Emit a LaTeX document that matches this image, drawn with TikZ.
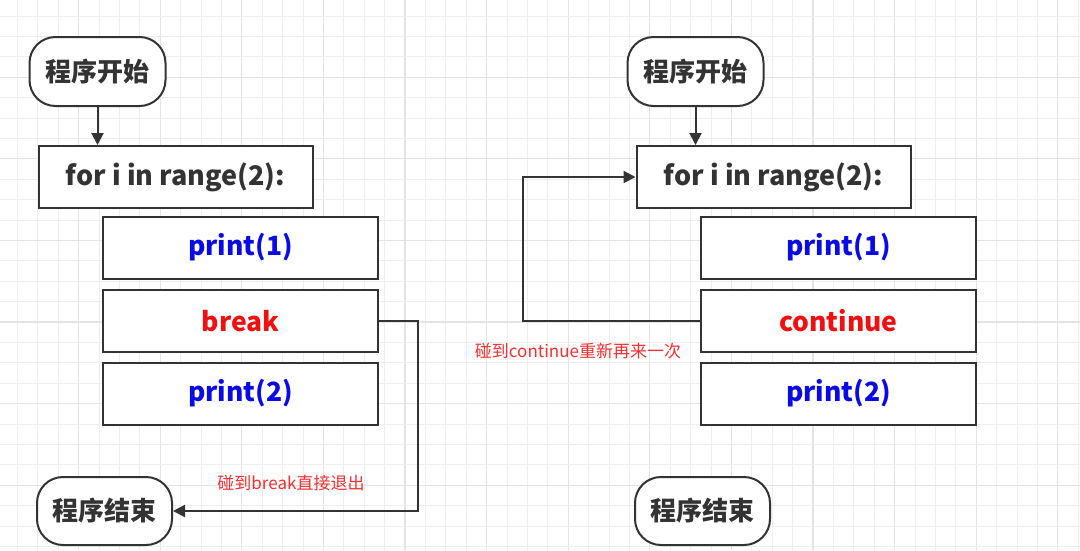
\documentclass[tikz,border=0pt]{standalone}
\usepackage{fontspec}
\setmainfont{Noto Sans CJK SC}
\usetikzlibrary{arrows.meta}
\definecolor{linec}{HTML}{333333}
\definecolor{gridminor}{HTML}{EEEEEE}
\definecolor{gridmajor}{HTML}{E4E4E4}
\definecolor{pblue}{HTML}{0A0AE6}
\definecolor{kred}{HTML}{F01010}
\definecolor{lred}{HTML}{F53030}
\tikzset{
  box/.style={draw=linec, line width=2pt, fill=white, minimum width=275pt, minimum height=62pt, inner sep=0pt,
    font=\fontsize{26.5}{30}\selectfont\bfseries},
  term/.style={draw=linec, line width=2pt, fill=white, rounded corners=26pt, minimum width=136pt, minimum height=69pt, inner sep=0pt,
    text=linec, font=\fontsize{26}{30}\selectfont\bfseries},
  conn/.style={draw=linec, line width=2pt, -{Triangle[length=12pt,width=12pt]}},
  note/.style={text=lred, font=\fontsize{17}{20}\selectfont, inner sep=0pt},
}
\begin{document}
\begin{tikzpicture}[x=1pt,y=-1pt]
\useasboundingbox (0,0) rectangle (1080,550);
\fill[white] (0,0) rectangle (1080,550);
\foreach \i in {0,...,52} {
  \pgfmathtruncatemacro{\m}{mod(\i,4)}
  \ifnum\m=3 \draw[gridmajor,line width=1.2pt] ({17.4+20.4*\i},0) -- ({17.4+20.4*\i},550);
  \else \draw[gridminor,line width=1pt] ({17.4+20.4*\i},0) -- ({17.4+20.4*\i},550); \fi
}
\foreach \j in {0,...,26} {
  \pgfmathtruncatemacro{\m}{mod(\j,4)}
  \ifnum\m=3 \draw[gridmajor,line width=1.2pt] (0,{16+20.4*\j}) -- (1080,{16+20.4*\j});
  \else \draw[gridminor,line width=1pt] (0,{16+20.4*\j}) -- (1080,{16+20.4*\j}); \fi
}

% left flow
\node[term] (s1) at (97.5,71.5) {程序开始};
\node[box, text=linec, minimum width=274pt, font=\fontsize{27}{30}\selectfont\bfseries] (f1) at (175.5,177) {for i in range(2):};
\node[box, text=pblue] (p11) at (240.5,247.5) {print(1)};
\node[box, text=kred] (brk) at (240.5,321) {break};
\node[box, text=pblue] (p12) at (240.5,393.5) {print(2)};
\node[term, minimum width=135pt, minimum height=68pt] (e1) at (104.5,511) {程序结束};
\draw[conn] (s1.south) -- (s1.south |- f1.north);
\coordinate (bk) at (418,321);
\draw[conn] (brk.east) -- (bk) |- (e1.east);
\node[note] (n1) at (291,483) {碰到break直接退出};

% right flow
\node[term] (s2) at (695.5,71.5) {程序开始};
\node[box, text=linec, minimum width=274pt, font=\fontsize{27}{30}\selectfont\bfseries] (f2) at (773.5,177) {for i in range(2):};
\node[box, text=pblue] (p21) at (838.5,247.5) {print(1)};
\node[box, text=kred] (cnt) at (838.5,321) {continue};
\node[box, text=pblue] (p22) at (838.5,393.5) {print(2)};
\node[term, minimum width=135pt, minimum height=68pt] (e2) at (702.5,511) {程序结束};
\draw[conn] (s2.south) -- (s2.south |- f2.north);
\coordinate (ck) at (523,321);
\draw[conn] (cnt.west) -- (ck) |- (f2.west);
\node[note] (n2) at (578,351) {碰到continue重新再来一次};
\end{tikzpicture}
\end{document}
